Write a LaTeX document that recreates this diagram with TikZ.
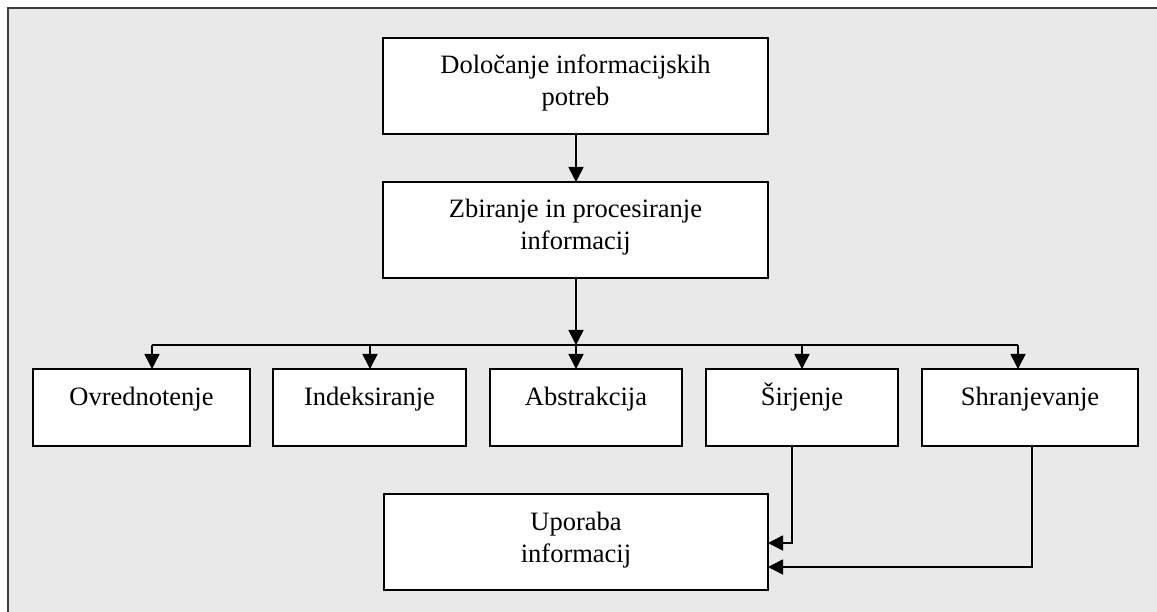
\documentclass[tikz,border=0pt]{standalone}
\usepackage{fontspec}
\setmainfont{Liberation Serif}
\usetikzlibrary{arrows.meta}
\definecolor{bgc}{RGB}{233,233,233}
\definecolor{framec}{RGB}{60,60,60}
\newcommand\boxtext[3]{\parbox[c][#2][t]{#1}{\centering\rule{0pt}{36pt}#3}}
\tikzset{
  box/.style={draw=black, fill=white, line width=1.8pt, inner sep=0pt, outer sep=0pt,
    font=\fontsize{26.5}{32}\selectfont},
  conn/.style={line width=1.6pt, draw=black},
  arr/.style={conn, -{Triangle[length=15pt,width=15pt]}}
}
\begin{document}
\begin{tikzpicture}[x=1pt, y=-1pt]
\useasboundingbox (0,0) rectangle (1157,612);
\fill[white] (0,0) rectangle (1157,612);
\filldraw[fill=bgc, draw=framec, line width=1.5pt] (8,8) rectangle (1180,640);

\node[box] (b1) at (575.5,86) {\boxtext{385pt}{96pt}{Določanje informacijskih\\potreb}};
\node[box] (b2) at (575.5,230) {\boxtext{385pt}{96pt}{Zbiranje in procesiranje\\informacij}};

\node[box] (ovr) at (141.5,407.5) {\boxtext{217pt}{77pt}{Ovrednotenje}};
\node[box] (ind) at (369.5,407.5) {\boxtext{193pt}{77pt}{Indeksiranje}};
\node[box] (abs) at (586,407.5) {\boxtext{192pt}{77pt}{Abstrakcija}};
\node[box] (sir) at (802,407.5) {\boxtext{192pt}{77pt}{Širjenje}};
\node[box] (shr) at (1030,407.5) {\boxtext{216pt}{77pt}{Shranjevanje}};

\node[box] (upo) at (576,542) {\boxtext{384pt}{96pt}{Uporaba\\informacij}};

\coordinate (busL) at (152,345);
\coordinate (busI) at (370,345);
\coordinate (busM) at (576,345);
\coordinate (busS) at (802,345);
\coordinate (busR) at (1018,345);

\draw[arr] (b1.south -| busM) -- (b2.north -| busM);
\draw[arr] (b2.south -| busM) -- (busM);
\draw[conn] (busL) -- (busR);
\draw[arr] (busL) -- (ovr.north -| busL);
\draw[arr] (busI) -- (ind.north -| busI);
\draw[arr] (busM) -- (abs.north -| busM);
\draw[arr] (busS) -- (sir.north -| busS);
\draw[arr] (busR) -- (shr.north -| busR);

\coordinate (sirD) at (792,543);
\coordinate (shrD) at (1032,567);
\draw[arr] (sir.south -| sirD) -- (sirD) -- (upo.east |- sirD);
\draw[arr] (shr.south -| shrD) -- (shrD) -- (upo.east |- shrD);
\end{tikzpicture}
\end{document}
